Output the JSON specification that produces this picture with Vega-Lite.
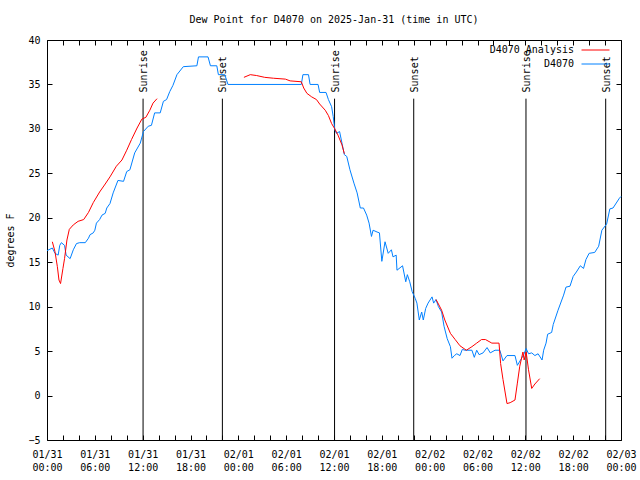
{
  "$schema": "https://vega.github.io/schema/vega-lite/v6.json",
  "width": 574,
  "height": 400,
  "autosize": {"type": "none"},
  "padding": {"left": 47, "top": 40, "right": 19, "bottom": 40},
  "background": "white",
  "title": {"text": "Dew Point for D4070 on 2025-Jan-31 (time in UTC)", "font": "DejaVu Sans Mono", "fontSize": 10, "fontWeight": "normal", "color": "black", "offset": 10, "anchor": "middle"},
  "config": {
    "view": {"stroke": "black", "strokeWidth": 1},
    "axis": {"labelFont": "DejaVu Sans Mono", "labelFontSize": 10, "labelColor": "black", "titleFont": "DejaVu Sans Mono", "titleFontSize": 10, "titleFontWeight": "normal", "titleColor": "black", "grid": false, "domain": false},
    "legend": {"orient": "none", "legendX": 543, "legendY": 4.5, "title": null, "symbolType": "M-2.8,0H2.8", "symbolSize": 100, "symbolStrokeWidth": 1, "labelAlign": "right", "labelOffset": -27, "rowPadding": 3, "padding": 0, "labelFont": "DejaVu Sans Mono", "labelFontSize": 10, "labelColor": "black"}
  },
  "datasets": {
    "events": [
      {"h": 12.05, "label": "Sunrise"},
      {"h": 22.0, "label": "Sunset"},
      {"h": 36.07, "label": "Sunrise"},
      {"h": 46.0, "label": "Sunset"},
      {"h": 60.08, "label": "Sunrise"},
      {"h": 70.08, "label": "Sunset"}
    ],
    "dew": [
      {"s":"D4070","g":"b","h":0,"v":16.3},{"s":"D4070","g":"b","h":0.67,"v":16.6},{"s":"D4070","g":"b","h":1.0,"v":16.0},{"s":"D4070","g":"b","h":1.4,"v":15.8},{"s":"D4070","g":"b","h":1.6,"v":16.9},{"s":"D4070","g":"b","h":1.8,"v":17.2},{"s":"D4070","g":"b","h":2.2,"v":16.9},{"s":"D4070","g":"b","h":2.4,"v":15.8},{"s":"D4070","g":"b","h":2.9,"v":15.4},{"s":"D4070","g":"b","h":3.3,"v":16.4},{"s":"D4070","g":"b","h":3.7,"v":17.1},{"s":"D4070","g":"b","h":4.1,"v":17.2},{"s":"D4070","g":"b","h":4.8,"v":17.2},{"s":"D4070","g":"b","h":5.2,"v":17.7},{"s":"D4070","g":"b","h":5.4,"v":18.1},{"s":"D4070","g":"b","h":5.8,"v":18.3},{"s":"D4070","g":"b","h":6.0,"v":18.6},{"s":"D4070","g":"b","h":6.2,"v":19.4},{"s":"D4070","g":"b","h":6.6,"v":19.8},{"s":"D4070","g":"b","h":6.9,"v":20.3},{"s":"D4070","g":"b","h":7.3,"v":20.5},{"s":"D4070","g":"b","h":7.5,"v":21.1},{"s":"D4070","g":"b","h":7.9,"v":21.6},{"s":"D4070","g":"b","h":8.3,"v":22.8},{"s":"D4070","g":"b","h":8.9,"v":24.2},{"s":"D4070","g":"b","h":9.6,"v":24.1},{"s":"D4070","g":"b","h":10.0,"v":25.2},{"s":"D4070","g":"b","h":10.4,"v":25.4},{"s":"D4070","g":"b","h":11.0,"v":27.3},{"s":"D4070","g":"b","h":11.7,"v":28.4},{"s":"D4070","g":"b","h":12.1,"v":29.7},{"s":"D4070","g":"b","h":12.7,"v":30.3},{"s":"D4070","g":"b","h":13.1,"v":30.4},{"s":"D4070","g":"b","h":13.5,"v":31.8},{"s":"D4070","g":"b","h":14.2,"v":31.8},{"s":"D4070","g":"b","h":14.6,"v":33.1},{"s":"D4070","g":"b","h":15.0,"v":33.3},{"s":"D4070","g":"b","h":15.4,"v":34.2},{"s":"D4070","g":"b","h":15.8,"v":34.9},{"s":"D4070","g":"b","h":16.3,"v":36.1},{"s":"D4070","g":"b","h":17.1,"v":37.0},{"s":"D4070","g":"b","h":18.8,"v":37.1},{"s":"D4070","g":"b","h":19.0,"v":38.1},{"s":"D4070","g":"b","h":20.2,"v":38.1},{"s":"D4070","g":"b","h":20.5,"v":37.1},{"s":"D4070","g":"b","h":21.3,"v":37.1},{"s":"D4070","g":"b","h":21.5,"v":36.1},{"s":"D4070","g":"b","h":22.3,"v":36.1},{"s":"D4070","g":"b","h":22.7,"v":35.0},{"s":"D4070","g":"b","h":31.9,"v":35.0},{"s":"D4070","g":"b","h":32.1,"v":36.1},{"s":"D4070","g":"b","h":32.8,"v":36.1},{"s":"D4070","g":"b","h":33.0,"v":35.0},{"s":"D4070","g":"b","h":34.0,"v":35.0},{"s":"D4070","g":"b","h":34.2,"v":34.1},{"s":"D4070","g":"b","h":35.0,"v":34.1},{"s":"D4070","g":"b","h":35.3,"v":33.3},{"s":"D4070","g":"b","h":35.7,"v":32.5},{"s":"D4070","g":"b","h":35.9,"v":31.4},{"s":"D4070","g":"b","h":36.1,"v":29.9},{"s":"D4070","g":"b","h":36.3,"v":29.5},{"s":"D4070","g":"b","h":36.7,"v":29.7},{"s":"D4070","g":"b","h":37.0,"v":28.4},{"s":"D4070","g":"b","h":37.3,"v":27.1},{"s":"D4070","g":"b","h":37.6,"v":26.9},{"s":"D4070","g":"b","h":38.0,"v":25.4},{"s":"D4070","g":"b","h":38.5,"v":23.9},{"s":"D4070","g":"b","h":38.9,"v":22.8},{"s":"D4070","g":"b","h":39.3,"v":21.1},{"s":"D4070","g":"b","h":39.7,"v":21.1},{"s":"D4070","g":"b","h":40.1,"v":20.3},{"s":"D4070","g":"b","h":40.4,"v":19.4},{"s":"D4070","g":"b","h":40.7,"v":17.9},{"s":"D4070","g":"b","h":40.9,"v":18.6},{"s":"D4070","g":"b","h":41.4,"v":18.4},{"s":"D4070","g":"b","h":41.7,"v":18.3},{"s":"D4070","g":"b","h":42.0,"v":15.1},{"s":"D4070","g":"b","h":42.4,"v":17.3},{"s":"D4070","g":"b","h":42.8,"v":16.0},{"s":"D4070","g":"b","h":43.2,"v":16.4},{"s":"D4070","g":"b","h":43.4,"v":15.6},{"s":"D4070","g":"b","h":43.8,"v":15.8},{"s":"D4070","g":"b","h":43.9,"v":14.1},{"s":"D4070","g":"b","h":44.6,"v":14.6},{"s":"D4070","g":"b","h":45.0,"v":12.8},{"s":"D4070","g":"b","h":45.2,"v":13.6},{"s":"D4070","g":"b","h":45.5,"v":12.8},{"s":"D4070","g":"b","h":45.8,"v":11.7},{"s":"D4070","g":"b","h":46.2,"v":10.9},{"s":"D4070","g":"b","h":46.4,"v":10.4},{"s":"D4070","g":"b","h":46.7,"v":8.5},{"s":"D4070","g":"b","h":47.0,"v":9.4},{"s":"D4070","g":"b","h":47.2,"v":8.5},{"s":"D4070","g":"b","h":47.5,"v":9.8},{"s":"D4070","g":"b","h":47.8,"v":10.4},{"s":"D4070","g":"b","h":48.3,"v":11.1},{"s":"D4070","g":"b","h":48.5,"v":10.4},{"s":"D4070","g":"b","h":48.8,"v":10.8},{"s":"D4070","g":"b","h":49.1,"v":10.0},{"s":"D4070","g":"b","h":49.5,"v":9.4},{"s":"D4070","g":"b","h":49.8,"v":7.8},{"s":"D4070","g":"b","h":50.2,"v":6.4},{"s":"D4070","g":"b","h":50.6,"v":5.5},{"s":"D4070","g":"b","h":50.8,"v":4.2},{"s":"D4070","g":"b","h":51.1,"v":4.5},{"s":"D4070","g":"b","h":51.4,"v":4.7},{"s":"D4070","g":"b","h":51.8,"v":4.5},{"s":"D4070","g":"b","h":52.1,"v":5.2},{"s":"D4070","g":"b","h":52.4,"v":5.1},{"s":"D4070","g":"b","h":53.3,"v":5.1},{"s":"D4070","g":"b","h":53.6,"v":4.3},{"s":"D4070","g":"b","h":53.9,"v":5.1},{"s":"D4070","g":"b","h":54.2,"v":4.6},{"s":"D4070","g":"b","h":54.7,"v":4.8},{"s":"D4070","g":"b","h":55.2,"v":5.4},{"s":"D4070","g":"b","h":55.6,"v":4.8},{"s":"D4070","g":"b","h":56.2,"v":5.1},{"s":"D4070","g":"b","h":56.8,"v":5.1},{"s":"D4070","g":"b","h":57.2,"v":3.9},{"s":"D4070","g":"b","h":57.7,"v":4.5},{"s":"D4070","g":"b","h":58.7,"v":4.5},{"s":"D4070","g":"b","h":59.0,"v":3.4},{"s":"D4070","g":"b","h":59.4,"v":4.0},{"s":"D4070","g":"b","h":59.8,"v":4.6},{"s":"D4070","g":"b","h":60.1,"v":5.3},{"s":"D4070","g":"b","h":60.4,"v":4.7},{"s":"D4070","g":"b","h":60.8,"v":4.8},{"s":"D4070","g":"b","h":61.2,"v":4.5},{"s":"D4070","g":"b","h":61.6,"v":4.7},{"s":"D4070","g":"b","h":62.1,"v":4.0},{"s":"D4070","g":"b","h":62.3,"v":5.1},{"s":"D4070","g":"b","h":62.6,"v":5.9},{"s":"D4070","g":"b","h":62.8,"v":6.9},{"s":"D4070","g":"b","h":63.3,"v":7.1},{"s":"D4070","g":"b","h":63.5,"v":8.0},{"s":"D4070","g":"b","h":64.1,"v":9.6},{"s":"D4070","g":"b","h":64.8,"v":11.3},{"s":"D4070","g":"b","h":65.1,"v":12.2},{"s":"D4070","g":"b","h":65.6,"v":12.3},{"s":"D4070","g":"b","h":66.0,"v":13.4},{"s":"D4070","g":"b","h":66.4,"v":13.9},{"s":"D4070","g":"b","h":66.9,"v":14.6},{"s":"D4070","g":"b","h":67.3,"v":14.3},{"s":"D4070","g":"b","h":67.6,"v":15.3},{"s":"D4070","g":"b","h":68.0,"v":16.0},{"s":"D4070","g":"b","h":68.7,"v":16.1},{"s":"D4070","g":"b","h":69.2,"v":16.8},{"s":"D4070","g":"b","h":69.6,"v":18.6},{"s":"D4070","g":"b","h":70.2,"v":19.3},{"s":"D4070","g":"b","h":70.6,"v":21.0},{"s":"D4070","g":"b","h":71.0,"v":21.1},{"s":"D4070","g":"b","h":71.8,"v":22.2},{"s":"D4070","g":"b","h":72.0,"v":22.4},
      {"s":"D4070 Analysis","g":"r1","h":0.67,"v":17.3},{"s":"D4070 Analysis","g":"r1","h":1.0,"v":16.2},{"s":"D4070 Analysis","g":"r1","h":1.3,"v":14.5},{"s":"D4070 Analysis","g":"r1","h":1.5,"v":13.0},{"s":"D4070 Analysis","g":"r1","h":1.7,"v":12.6},{"s":"D4070 Analysis","g":"r1","h":2.0,"v":14.3},{"s":"D4070 Analysis","g":"r1","h":2.2,"v":15.4},{"s":"D4070 Analysis","g":"r1","h":2.5,"v":17.5},{"s":"D4070 Analysis","g":"r1","h":2.8,"v":18.7},{"s":"D4070 Analysis","g":"r1","h":3.3,"v":19.2},{"s":"D4070 Analysis","g":"r1","h":3.9,"v":19.6},{"s":"D4070 Analysis","g":"r1","h":4.6,"v":19.8},{"s":"D4070 Analysis","g":"r1","h":5.2,"v":20.6},{"s":"D4070 Analysis","g":"r1","h":5.8,"v":21.7},{"s":"D4070 Analysis","g":"r1","h":6.6,"v":22.9},{"s":"D4070 Analysis","g":"r1","h":7.3,"v":23.8},{"s":"D4070 Analysis","g":"r1","h":7.9,"v":24.6},{"s":"D4070 Analysis","g":"r1","h":8.7,"v":25.8},{"s":"D4070 Analysis","g":"r1","h":9.4,"v":26.5},{"s":"D4070 Analysis","g":"r1","h":10.0,"v":27.6},{"s":"D4070 Analysis","g":"r1","h":10.6,"v":28.8},{"s":"D4070 Analysis","g":"r1","h":11.3,"v":30.1},{"s":"D4070 Analysis","g":"r1","h":11.9,"v":31.1},{"s":"D4070 Analysis","g":"r1","h":12.4,"v":31.3},{"s":"D4070 Analysis","g":"r1","h":12.9,"v":32.1},{"s":"D4070 Analysis","g":"r1","h":13.3,"v":32.9},{"s":"D4070 Analysis","g":"r1","h":13.8,"v":33.4},
      {"s":"D4070 Analysis","g":"r2","h":24.7,"v":35.8},{"s":"D4070 Analysis","g":"r2","h":25.5,"v":36.1},{"s":"D4070 Analysis","g":"r2","h":26.3,"v":36.0},{"s":"D4070 Analysis","g":"r2","h":27.3,"v":35.8},{"s":"D4070 Analysis","g":"r2","h":28.4,"v":35.7},{"s":"D4070 Analysis","g":"r2","h":29.9,"v":35.6},{"s":"D4070 Analysis","g":"r2","h":30.5,"v":35.4},{"s":"D4070 Analysis","g":"r2","h":31.9,"v":35.3},{"s":"D4070 Analysis","g":"r2","h":32.2,"v":34.6},{"s":"D4070 Analysis","g":"r2","h":32.6,"v":34.0},{"s":"D4070 Analysis","g":"r2","h":33.2,"v":33.6},{"s":"D4070 Analysis","g":"r2","h":33.8,"v":33.3},{"s":"D4070 Analysis","g":"r2","h":34.2,"v":32.8},{"s":"D4070 Analysis","g":"r2","h":34.9,"v":32.1},{"s":"D4070 Analysis","g":"r2","h":35.3,"v":31.5},{"s":"D4070 Analysis","g":"r2","h":35.7,"v":30.6},{"s":"D4070 Analysis","g":"r2","h":36.1,"v":30.0},{"s":"D4070 Analysis","g":"r2","h":36.5,"v":29.3},{"s":"D4070 Analysis","g":"r2","h":37.0,"v":28.2},{"s":"D4070 Analysis","g":"r2","h":37.3,"v":27.2},
      {"s":"D4070 Analysis","g":"r3","h":48.8,"v":10.8},{"s":"D4070 Analysis","g":"r3","h":49.1,"v":10.3},{"s":"D4070 Analysis","g":"r3","h":49.5,"v":9.6},{"s":"D4070 Analysis","g":"r3","h":49.9,"v":8.5},{"s":"D4070 Analysis","g":"r3","h":50.6,"v":7.0},{"s":"D4070 Analysis","g":"r3","h":51.2,"v":6.3},{"s":"D4070 Analysis","g":"r3","h":51.8,"v":5.6},{"s":"D4070 Analysis","g":"r3","h":52.6,"v":5.1},{"s":"D4070 Analysis","g":"r3","h":53.3,"v":5.5},{"s":"D4070 Analysis","g":"r3","h":53.9,"v":5.9},{"s":"D4070 Analysis","g":"r3","h":54.5,"v":6.3},{"s":"D4070 Analysis","g":"r3","h":55.0,"v":6.3},{"s":"D4070 Analysis","g":"r3","h":55.8,"v":5.9},{"s":"D4070 Analysis","g":"r3","h":56.7,"v":5.9},{"s":"D4070 Analysis","g":"r3","h":56.9,"v":3.6},{"s":"D4070 Analysis","g":"r3","h":57.2,"v":1.8},{"s":"D4070 Analysis","g":"r3","h":57.7,"v":-0.9},{"s":"D4070 Analysis","g":"r3","h":58.1,"v":-0.8},{"s":"D4070 Analysis","g":"r3","h":58.7,"v":-0.5},{"s":"D4070 Analysis","g":"r3","h":59.0,"v":1.4},{"s":"D4070 Analysis","g":"r3","h":59.3,"v":3.3},{"s":"D4070 Analysis","g":"r3","h":59.7,"v":4.9},{"s":"D4070 Analysis","g":"r3","h":59.85,"v":4.0},{"s":"D4070 Analysis","g":"r3","h":60.1,"v":4.9},{"s":"D4070 Analysis","g":"r3","h":60.4,"v":2.9},{"s":"D4070 Analysis","g":"r3","h":60.8,"v":0.8},{"s":"D4070 Analysis","g":"r3","h":61.2,"v":1.3},{"s":"D4070 Analysis","g":"r3","h":61.8,"v":1.9}
    ]
  },
  "layer": [
    {
      "data": {"name": "events"},
      "mark": {"type": "rule", "color": "black", "strokeWidth": 1},
      "encoding": {
        "x": {"field": "h", "type": "quantitative", "scale": {"domain": [0, 72], "nice": false, "zero": false},
              "axis": {"orient": "top", "values": [0,2,4,6,8,10,12,14,16,18,20,22,24,26,28,30,32,34,36,38,40,42,44,46,48,50,52,54,56,58,60,62,64,66,68,70,72], "labels": false, "title": null, "ticks": true, "tickSize": 5, "offset": -5, "tickColor": "black", "tickWidth": 1}},
        "y": {"datum": -5, "type": "quantitative", "scale": {"domain": [-5, 40], "nice": false, "zero": false},
              "axis": {"orient": "right", "values": [-5,0,5,10,15,20,25,30,35,40], "labels": false, "title": null, "ticks": true, "tickSize": 5, "offset": -5, "tickColor": "black", "tickWidth": 1}},
        "y2": {"datum": 33.4}
      }
    },
    {
      "data": {"name": "events"},
      "mark": {"type": "text", "angle": 270, "align": "left", "baseline": "middle", "dy": 1, "font": "DejaVu Sans Mono", "fontSize": 10, "color": "black"},
      "encoding": {
        "x": {"field": "h", "type": "quantitative", "axis": null},
        "y": {"datum": 34.1, "type": "quantitative", "axis": null},
        "text": {"field": "label"}
      }
    },
    {
      "data": {"name": "dew"},
      "mark": {"type": "line", "strokeWidth": 1, "interpolate": "linear"},
      "encoding": {
        "x": {"field": "h", "type": "quantitative", "scale": {"domain": [0, 72], "nice": false, "zero": false},
              "axis": {"orient": "bottom", "values": [0,2,4,6,8,10,12,14,16,18,20,22,24,26,28,30,32,34,36,38,40,42,44,46,48,50,52,54,56,58,60,62,64,66,68,70,72], "title": null, "ticks": true, "tickSize": 5, "offset": -5, "tickColor": "black", "tickWidth": 1, "labelPadding": 9, "labelFlush": false, "labelOverlap": false, "labelLineHeight": 13, "labelBaseline": "top",
                       "labelExpr": "datum.value % 6 == 0 ? [['01/31','02/01','02/02','02/03'][floor(datum.value/24)], (datum.value % 24 < 10 ? '0' : '') + (datum.value % 24) + ':00'] : ''"}},
        "y": {"field": "v", "type": "quantitative", "scale": {"domain": [-5, 40], "nice": false, "zero": false},
              "axis": {"orient": "left", "values": [-5,0,5,10,15,20,25,30,35,40], "title": "degrees F", "ticks": true, "tickSize": 5, "offset": -5, "tickColor": "black", "tickWidth": 1, "labelPadding": 7, "labelFlush": false, "labelOverlap": false, "titleX": -42, "titleY": 200, "titleAngle": -90, "titleBaseline": "middle", "titleAlign": "center"}},
        "color": {"field": "s", "type": "nominal", "scale": {"domain": ["D4070 Analysis", "D4070"], "range": ["#ff0000", "#0080ff"]}},
        "detail": {"field": "g", "type": "nominal"}
      }
    }
  ],
  "resolve": {"axis": {"x": "independent", "y": "independent"}}
}
